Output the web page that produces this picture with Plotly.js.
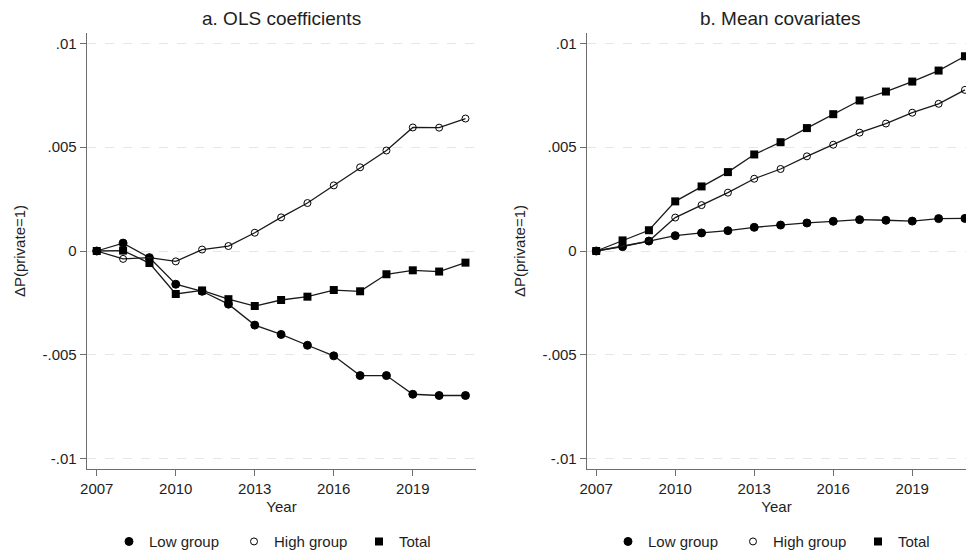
<!DOCTYPE html>
<html>
<head>
<meta charset="utf-8">
<script src="https://cdn.plot.ly/plotly-3.0.1.min.js"></script>
<style>html,body{margin:0;padding:0;background:#fff;} #chart{width:966px;height:552px;}</style>
</head>
<body>
<div id="chart"></div>
<script>
const years = [2007,2008,2009,2010,2011,2012,2013,2014,2015,2016,2017,2018,2019,2020,2021];

// Panel a: OLS coefficients
const olsLow   = [0, 0.00038, -0.00032, -0.0016, -0.00194, -0.00256, -0.00357, -0.00402, -0.00454, -0.00505, -0.0060, -0.0060, -0.0069, -0.00696, -0.00696];
const olsHigh  = [0, -0.00038, -0.00032, -0.0005, 0.00007, 0.00024, 0.00088, 0.00162, 0.00231, 0.00316, 0.00403, 0.00484, 0.00595, 0.00594, 0.00638];
const olsTotal = [0, 0.00002, -0.00058, -0.00207, -0.0019, -0.00232, -0.00265, -0.00236, -0.0022, -0.00188, -0.00194, -0.00112, -0.00093, -0.00099, -0.00056];

// Panel b: Mean covariates
const covLow   = [0, 0.00021, 0.00048, 0.00074, 0.00087, 0.00098, 0.00114, 0.00125, 0.00135, 0.00143, 0.00151, 0.00148, 0.00144, 0.00156, 0.00157];
const covHigh  = [0, 0.00024, 0.00048, 0.00161, 0.00221, 0.00281, 0.00348, 0.00395, 0.00456, 0.00512, 0.0057, 0.00614, 0.00666, 0.00709, 0.00776];
const covTotal = [0, 0.00051, 0.001, 0.00239, 0.00311, 0.0038, 0.00465, 0.00524, 0.00592, 0.00659, 0.00725, 0.00768, 0.00816, 0.00869, 0.00938];

const seriesNames = ['Low group', 'High group', 'Total'];
const panelTitles = ['a. OLS coefficients', 'b. Mean covariates'];
const xTickVals = [2007, 2010, 2013, 2016, 2019];
const yTickVals = [-0.01, -0.005, 0, 0.005, 0.01];
const yTickText = ['-.01', '-.005', '0', '.005', '.01'];
const xTitle = 'Year';
const yTitle = 'ΔP(private=1)';

const FONT = 'Liberation Sans, Arial, sans-serif';
const markerStyles = [
  {symbol: 'circle', size: 8, color: '#000', line: {color: '#000', width: 1}},
  {symbol: 'circle-open', size: 7, color: '#000', line: {color: '#000', width: 1}},
  {symbol: 'square', size: 8, color: '#000', line: {color: '#000', width: 0}}
];

function mk(y, i, xa, ya) {
  return {x: years, y: y, xaxis: xa, yaxis: ya, mode: 'lines+markers', name: seriesNames[i],
    showlegend: false, line: {color: '#1a1a1a', width: 1.3}, marker: markerStyles[i], cliponaxis: true};
}
function legendTrace(i, leg) {
  return {x: [null], y: [null], mode: 'markers', name: seriesNames[i], legend: leg,
    marker: markerStyles[i], showlegend: true, xaxis: 'x', yaxis: 'y'};
}

const data = [
  mk(olsLow, 0, 'x', 'y'), mk(olsHigh, 1, 'x', 'y'), mk(olsTotal, 2, 'x', 'y'),
  mk(covLow, 0, 'x2', 'y2'), mk(covHigh, 1, 'x2', 'y2'), mk(covTotal, 2, 'x2', 'y2'),
  legendTrace(0, 'legend'), legendTrace(1, 'legend'), legendTrace(2, 'legend'),
  legendTrace(0, 'legend2'), legendTrace(1, 'legend2'), legendTrace(2, 'legend2')
];

const W = 966, H = 552;
const yDom = [83 / H, 519 / H];
function xax(dom, range) {
  return {domain: dom, range: range, tickvals: xTickVals, showgrid: false, zeroline: false, automargin: false,
    showline: true, linecolor: '#6e6e6e', linewidth: 1.3, ticks: 'outside', ticklen: 6, tickcolor: '#6e6e6e',
    tickfont: {size: 15, color: '#1e1e1e', family: FONT},
    title: {text: xTitle, font: {size: 15, color: '#1e1e1e', family: FONT}, standoff: 5}};
}
function yax(dom, anchor) {
  return {domain: dom, anchor: anchor, range: [-0.0105, 0.0105], tickvals: yTickVals, ticktext: yTickText,
    showgrid: true, gridcolor: '#e6e6e6', griddash: 'dash', gridwidth: 1, zeroline: false, automargin: false,
    showline: true, linecolor: '#6e6e6e', linewidth: 1.3, ticks: 'outside', ticklen: 6, tickcolor: '#6e6e6e',
    tickfont: {size: 15, color: '#1e1e1e', family: FONT},
    title: {text: yTitle, font: {size: 15, color: '#1e1e1e', family: FONT}, standoff: 13}};
}

const legStyle = {orientation: 'h', xanchor: 'left', yanchor: 'middle', y: (H - 541.7) / H,
  font: {size: 15, color: '#1e1e1e', family: FONT}, bgcolor: 'rgba(0,0,0,0)', entrywidth: 80, itemclick: false};

const layout = {
  width: W, height: H, margin: {l: 0, r: 0, t: 0, b: 0, autoexpand: false},
  paper_bgcolor: '#fff', plot_bgcolor: '#fff', font: {family: FONT},
  xaxis: Object.assign(xax([87 / W, 476 / W], [2006.63, 2021.40]), {anchor: 'y'}),
  yaxis: yax(yDom, 'x'),
  xaxis2: Object.assign(xax([587 / W, 1], [2006.65, 2021.04]), {anchor: 'y2'}),
  yaxis2: yax(yDom, 'x2'),
  legend: Object.assign({}, legStyle, {x: 109 / W}),
  legend2: Object.assign({}, legStyle, {x: 608 / W}),
  annotations: [
    {text: panelTitles[0], xref: 'paper', yref: 'paper', x: 281 / W, y: (H - 18) / H, showarrow: false,
      xanchor: 'center', yanchor: 'middle', font: {size: 19, color: '#1e1e1e', family: FONT}},
    {text: panelTitles[1], xref: 'paper', yref: 'paper', x: 780 / W, y: (H - 18) / H, showarrow: false,
      xanchor: 'center', yanchor: 'middle', font: {size: 19, color: '#1e1e1e', family: FONT}}
  ],
  showlegend: true
};

Plotly.newPlot('chart', data, layout, {displayModeBar: false, staticPlot: true});
</script>
</body>
</html>
